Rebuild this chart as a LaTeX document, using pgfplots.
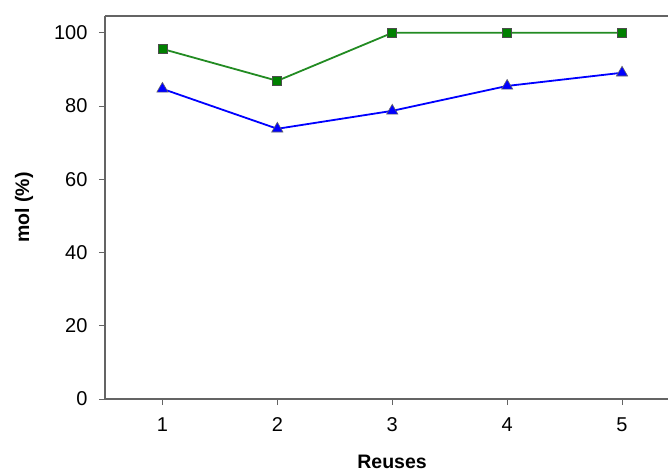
\documentclass[border=0pt]{standalone}
\usepackage{fontspec}
\setmainfont{Liberation Sans}
\usepackage{pgfplots}
\pgfplotsset{compat=1.18}
\definecolor{lgreen}{RGB}{34,139,34}
\definecolor{mgreen}{RGB}{0,128,0}
\definecolor{axgray}{RGB}{100,100,100}
\begin{document}
\begin{tikzpicture}
\begin{axis}[
  at={(0,0)}, anchor=south west,
  scale only axis,
  width=563pt, height=383pt,
  xmin=0.5, xmax=5.4,
  ymin=0, ymax=104.6,
  axis x line*=bottom,
  axis y line*=left,
  axis line style={axgray, line width=1.2pt},
  xtick={1,2,3,4,5},
  ytick={0,20,40,60,80,100},
  tick align=outside,
  xtick pos=bottom,
  ytick pos=left,
  major tick length=6pt,
  tick style={axgray, line width=1pt},
  /pgf/number format/assume math mode=true,
  tick label style={font=\fontsize{20}{24}\selectfont},
  xticklabel style={yshift=-9pt},
  yticklabel style={xshift=-8pt},
  xlabel={\textbf{Reuses}},
  ylabel={\textbf{mol (\%)}},
  label style={font=\fontsize{19.5}{23}\selectfont},
  xlabel style={at={(axis description cs:0.5098,0)}, anchor=center, yshift=-63pt},
  ylabel style={at={(axis description cs:-0.1439,0.5)}, anchor=center, rotate=0},
  clip=false,
]
\draw[axgray, line width=1.2pt] (rel axis cs:0,1) -- (rel axis cs:1,1);
\addplot[lgreen, line width=1.8pt, mark=square*, mark size=4.5pt,
  mark options={fill=mgreen, draw=black!70, line width=0.8pt}]
  coordinates {(1,95.6) (2,86.9) (3,100) (4,100) (5,100)};
\addplot[blue, line width=1.8pt, mark=triangle*, mark size=6.5pt,
  mark options={fill=blue, draw=black!60, line width=0.6pt}]
  coordinates {(1,84.7) (2,73.8) (3,78.7) (4,85.5) (5,89.1)};
\end{axis}
\pgfresetboundingbox
\useasboundingbox (-105pt,-73pt) rectangle (563pt,399pt);
\end{tikzpicture}
\end{document}
